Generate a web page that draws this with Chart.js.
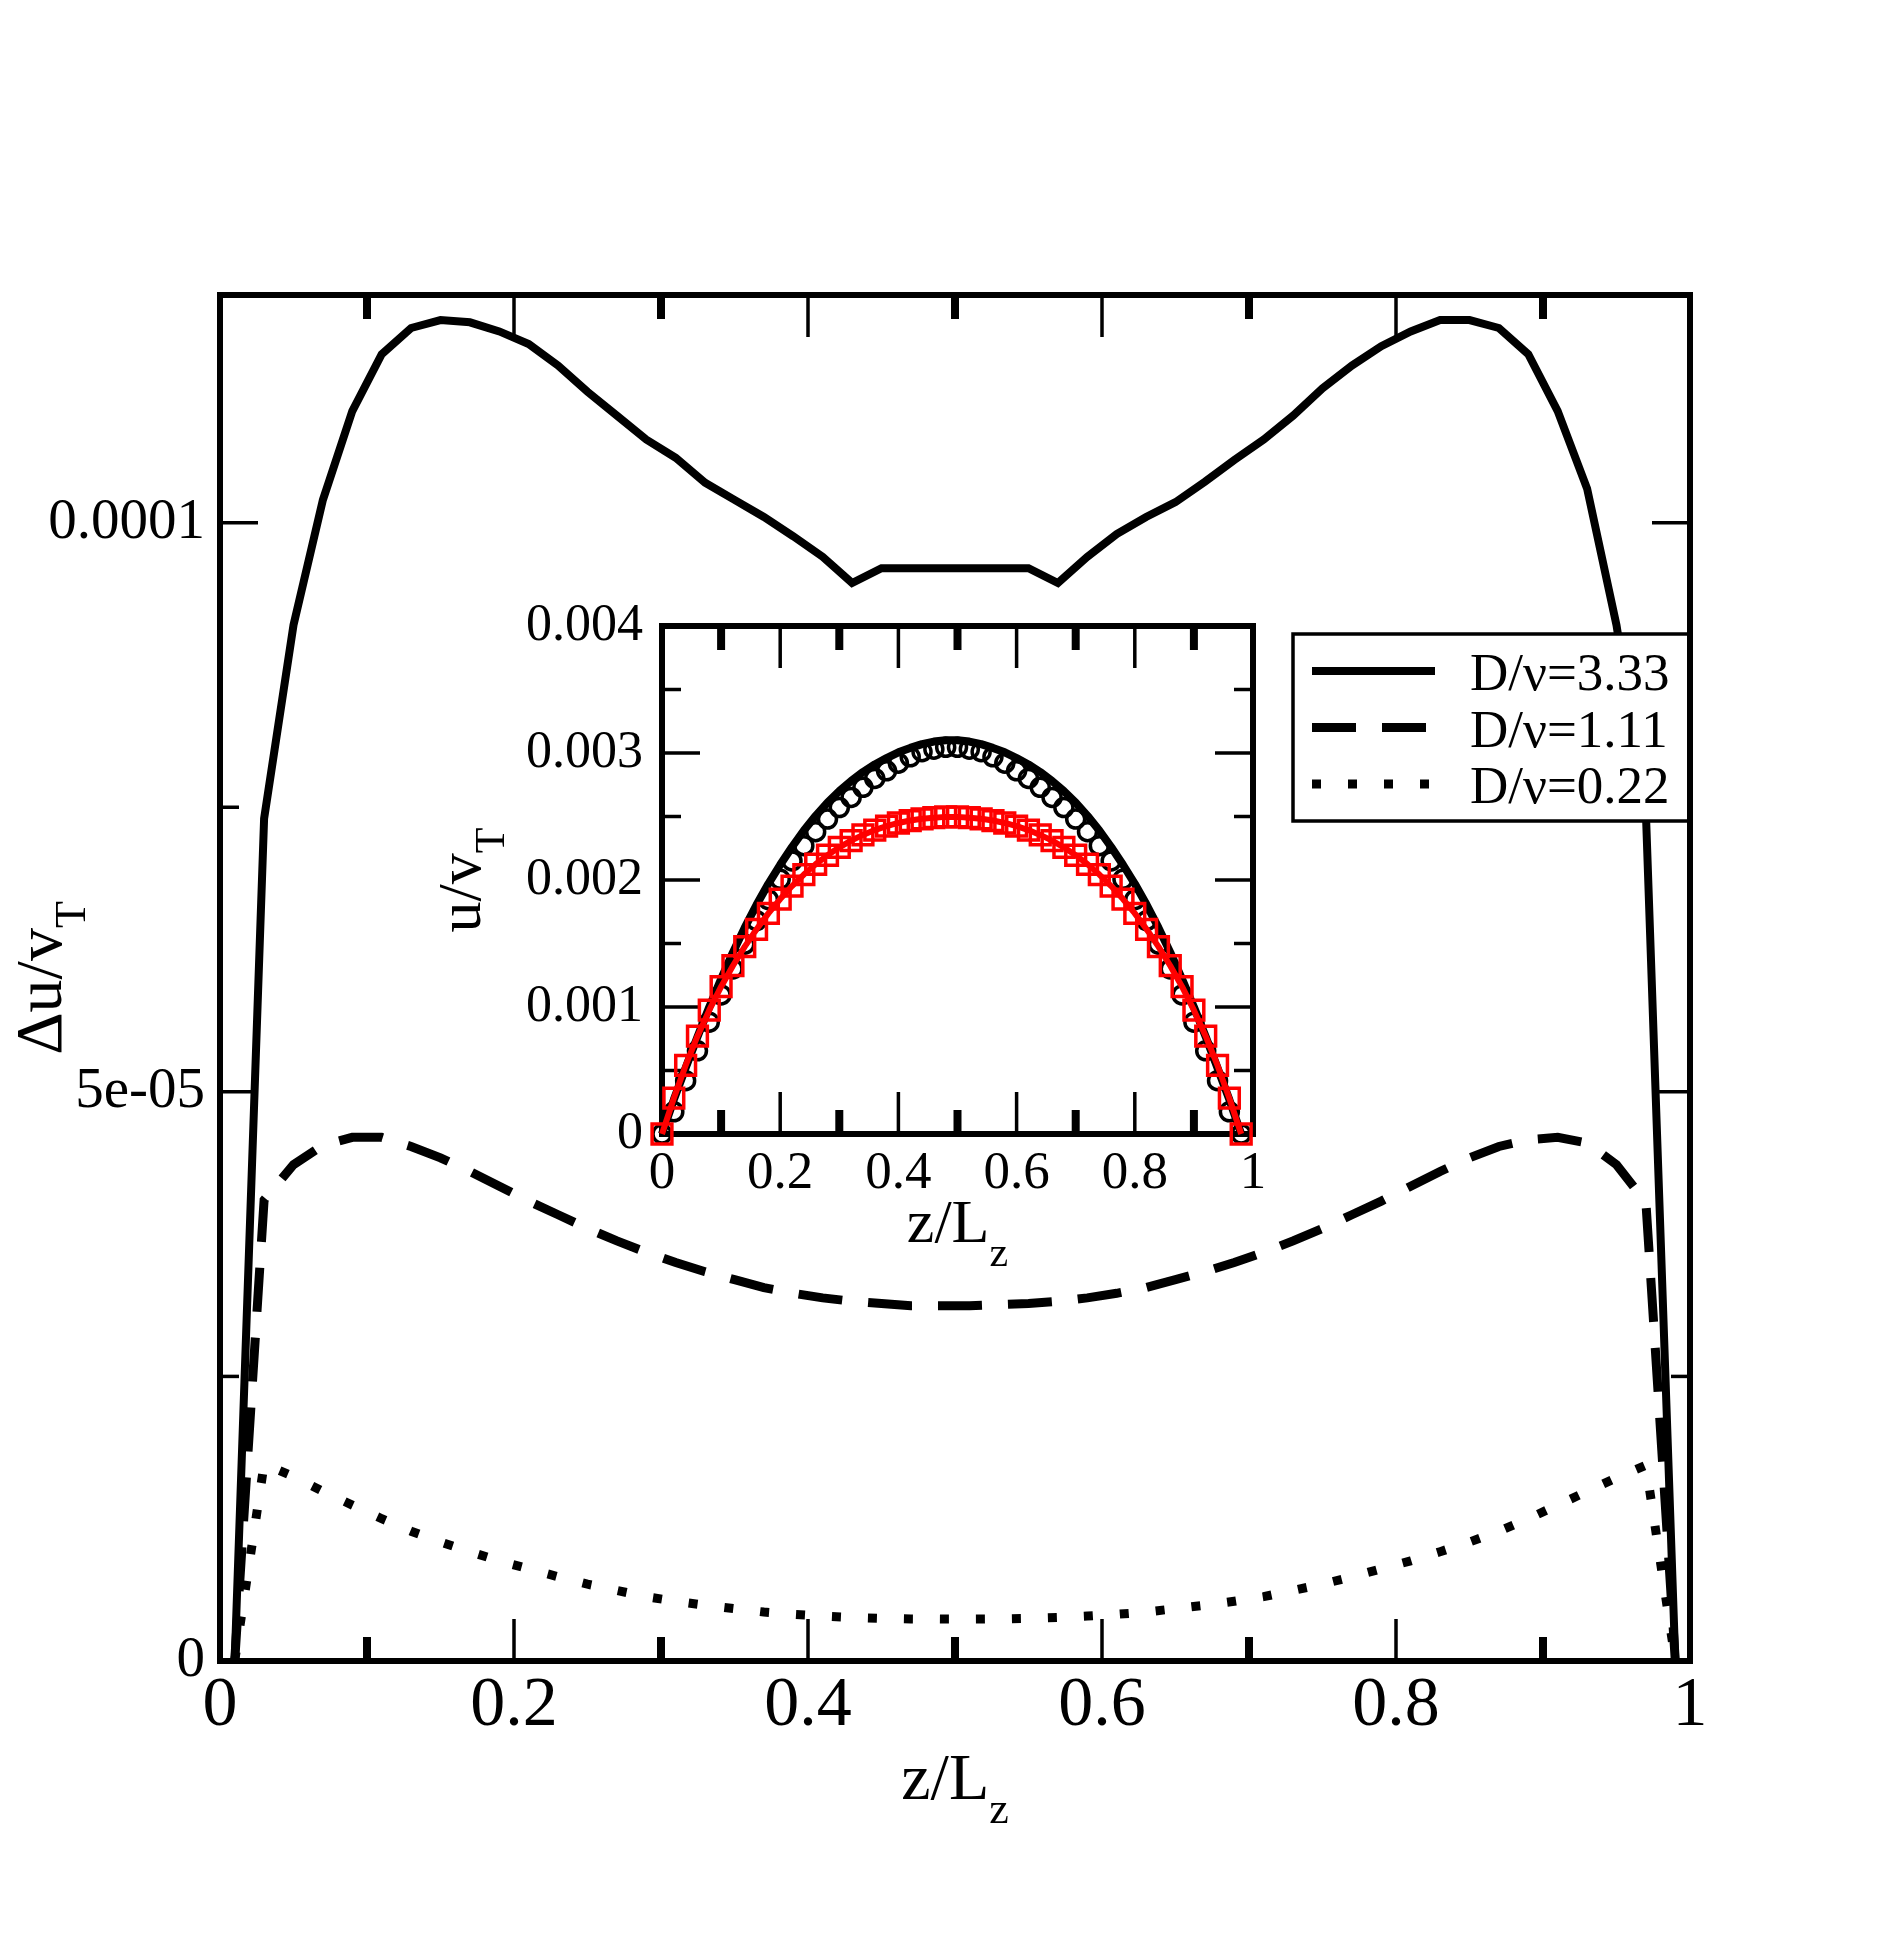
<!DOCTYPE html>
<html>
<head>
<meta charset="utf-8">
<title>Velocity difference profiles</title>
<script src="https://cdn.jsdelivr.net/npm/chart.js@4.4.1/dist/chart.umd.min.js"></script>
<style>
  body { margin: 0; background: #fff; }
  #wrap { position: relative; width: 1904px; height: 1954px; }
  #mainChart { position: absolute; left: 0; top: 0; }
  #insetChart { position: absolute; left: 400px; top: 560px; }
</style>
</head>
<body>
<div id="wrap">
  <canvas id="mainChart" width="1904" height="1954"></canvas>
  <canvas id="insetChart" width="900" height="760"></canvas>
</div>
<script>
const FONT = "'Liberation Serif', 'Times New Roman', serif";

// main plot: cell centres across the channel
const zMain = [0.01, 0.03, 0.05, 0.07, 0.09, 0.11, 0.13, 0.15, 0.17, 0.19,
  0.21, 0.23, 0.25, 0.27, 0.29, 0.31, 0.33, 0.35, 0.37, 0.39,
  0.41, 0.43, 0.45, 0.47, 0.49, 0.51, 0.53, 0.55, 0.57, 0.59,
  0.61, 0.63, 0.65, 0.67, 0.69, 0.71, 0.73, 0.75, 0.77, 0.79,
  0.81, 0.83, 0.85, 0.87, 0.89, 0.91, 0.93, 0.95, 0.97, 0.99];

// D/nu = 3.33
const duSolid = [0, 7.40e-5, 9.10e-5, 1.020e-4, 1.098e-4, 1.148e-4, 1.171e-4, 1.178e-4, 1.176e-4, 1.168e-4,
  1.157e-4, 1.138e-4, 1.115e-4, 1.094e-4, 1.073e-4, 1.057e-4, 1.035e-4, 1.020e-4, 1.005e-4, 9.88e-5,
  9.70e-5, 9.47e-5, 9.60e-5, 9.60e-5, 9.60e-5, 9.60e-5, 9.60e-5, 9.60e-5, 9.47e-5, 9.70e-5,
  9.90e-5, 1.005e-4, 1.018e-4, 1.036e-4, 1.055e-4, 1.073e-4, 1.094e-4, 1.118e-4, 1.138e-4, 1.155e-4,
  1.168e-4, 1.178e-4, 1.178e-4, 1.171e-4, 1.148e-4, 1.098e-4, 1.030e-4, 9.10e-5, 7.45e-5, 0];

// D/nu = 1.11
const duDashed = [0, 4.05e-5, 4.36e-5, 4.53e-5, 4.60e-5, 4.60e-5, 4.52e-5, 4.42e-5, 4.30e-5, 4.17e-5,
  4.04e-5, 3.92e-5, 3.80e-5, 3.69e-5, 3.59e-5, 3.50e-5, 3.42e-5, 3.35e-5, 3.28e-5, 3.23e-5,
  3.19e-5, 3.16e-5, 3.14e-5, 3.12e-5, 3.12e-5, 3.12e-5, 3.13e-5, 3.14e-5, 3.16e-5, 3.19e-5,
  3.23e-5, 3.28e-5, 3.35e-5, 3.42e-5, 3.50e-5, 3.59e-5, 3.69e-5, 3.80e-5, 3.92e-5, 4.04e-5,
  4.17e-5, 4.30e-5, 4.42e-5, 4.52e-5, 4.58e-5, 4.60e-5, 4.55e-5, 4.36e-5, 4.03e-5, 0];

// D/nu = 0.22
const duDotted = [0, 1.73e-5, 1.62e-5, 1.49e-5, 1.37e-5, 1.25e-5, 1.14e-5, 1.045e-5, 9.6e-6, 8.8e-6,
  8.1e-6, 7.4e-6, 6.75e-6, 6.2e-6, 5.65e-6, 5.25e-6, 4.9e-6, 4.6e-6, 4.3e-6, 4.1e-6,
  3.95e-6, 3.83e-6, 3.75e-6, 3.70e-6, 3.68e-6, 3.68e-6, 3.70e-6, 3.75e-6, 3.83e-6, 3.95e-6,
  4.1e-6, 4.3e-6, 4.6e-6, 4.9e-6, 5.25e-6, 5.65e-6, 6.2e-6, 6.75e-6, 7.4e-6, 8.1e-6,
  8.8e-6, 9.6e-6, 1.045e-5, 1.14e-5, 1.25e-5, 1.37e-5, 1.49e-5, 1.61e-5, 1.72e-5, 0];

const seriesLabels = ['D/\u03bd=3.33', 'D/\u03bd=1.11', 'D/\u03bd=0.22'];

const mainXTicks = [0, 0.2, 0.4, 0.6, 0.8, 1];
const mainXTickLabels = ['0', '0.2', '0.4', '0.6', '0.8', '1'];
const mainXMinor = [0.1, 0.3, 0.5, 0.7, 0.9];
const mainYTicks = [0, 5e-5, 1e-4];
const mainYTickLabels = ['0', '5e-05', '0.0001'];
const mainYMinor = [2.5e-5, 7.5e-5];

// inset: velocity profiles
const zInset = [0, 0.02, 0.04, 0.06, 0.08, 0.10, 0.12, 0.14, 0.16, 0.18,
  0.20, 0.22, 0.24, 0.26, 0.28, 0.30, 0.32, 0.34, 0.36, 0.38,
  0.40, 0.42, 0.44, 0.46, 0.48, 0.50, 0.52, 0.54, 0.56, 0.58,
  0.60, 0.62, 0.64, 0.66, 0.68, 0.70, 0.72, 0.74, 0.76, 0.78,
  0.80, 0.82, 0.84, 0.86, 0.88, 0.90, 0.92, 0.94, 0.96, 0.98];

const uBlackLine = [0, 0.000270, 0.000520, 0.000765, 0.001000, 0.001220, 0.001430, 0.001625, 0.001805, 0.001970,
  0.002120, 0.002260, 0.002390, 0.002505, 0.002610, 0.002700, 0.002780, 0.002850, 0.002910, 0.002960,
  0.003005, 0.003040, 0.003070, 0.003090, 0.003100, 0.003100, 0.003090, 0.003070, 0.003040, 0.003005,
  0.002960, 0.002910, 0.002850, 0.002780, 0.002700, 0.002610, 0.002505, 0.002390, 0.002260, 0.002120,
  0.001970, 0.001805, 0.001625, 0.001430, 0.001220, 0.001000, 0.000765, 0.000520, 0.000270, 0];

const uCircles = [0, 0.000175, 0.000420, 0.000655, 0.000880, 0.001095, 0.001300, 0.001495, 0.001680, 0.001845,
  0.002005, 0.002150, 0.002270, 0.002380, 0.002480, 0.002570, 0.002650, 0.002730, 0.002800, 0.002860,
  0.002920, 0.002970, 0.003010, 0.003030, 0.003045, 0.003045, 0.003030, 0.003010, 0.002970, 0.002920,
  0.002860, 0.002800, 0.002730, 0.002650, 0.002570, 0.002480, 0.002380, 0.002270, 0.002150, 0.002005,
  0.001845, 0.001680, 0.001495, 0.001300, 0.001095, 0.000880, 0.000655, 0.000420, 0.000175, 0];

const uRed = [0, 0.000282, 0.000540, 0.000770, 0.000975, 0.001160, 0.001325, 0.001475, 0.001612, 0.001737,
  0.001850, 0.001952, 0.002043, 0.002124, 0.002195, 0.002257, 0.002310, 0.002355, 0.002393, 0.002424,
  0.002449, 0.002468, 0.002482, 0.002491, 0.002497, 0.002497, 0.002491, 0.002482, 0.002468, 0.002449,
  0.002424, 0.002393, 0.002355, 0.002310, 0.002257, 0.002195, 0.002124, 0.002043, 0.001952, 0.001850,
  0.001737, 0.001612, 0.001475, 0.001325, 0.001160, 0.000975, 0.000770, 0.000540, 0.000282, 0];

const insetXTicks = [0, 0.2, 0.4, 0.6, 0.8, 1];
const insetXTickLabels = ['0', '0.2', '0.4', '0.6', '0.8', '1'];
const insetXMinor = [0.1, 0.3, 0.5, 0.7, 0.9];
const insetYTicks = [0, 0.001, 0.002, 0.003, 0.004];
const insetYTickLabels = ['0', '0.001', '0.002', '0.003', '0.004'];
const insetYMinor = [0.0005, 0.0015, 0.0025, 0.0035];

const pts = (xs, ys) => xs.map((x, i) => ({ x: x, y: ys[i] }));

// inward ticks on all four sides, like the original plotting program
function drawTicks(chart, t) {
  const { ctx, chartArea: a, scales: { x, y } } = chart;
  ctx.save();
  ctx.strokeStyle = '#000';
  ctx.lineCap = 'butt';
  const seg = (x1, y1, x2, y2, w) => {
    ctx.lineWidth = w;
    ctx.beginPath();
    ctx.moveTo(x1, y1);
    ctx.lineTo(x2, y2);
    ctx.stroke();
  };
  t.xMajor.forEach(v => {
    const p = x.getPixelForValue(v);
    seg(p, a.bottom, p, a.bottom - 42, 3.5);
    seg(p, a.top, p, a.top + 42, 3.5);
  });
  t.xMinor.forEach(v => {
    const p = x.getPixelForValue(v);
    seg(p, a.bottom, p, a.bottom - 24, 8);
    seg(p, a.top, p, a.top + 24, 8);
  });
  t.yMajor.forEach(v => {
    const p = y.getPixelForValue(v);
    seg(a.left, p, a.left + 38, p, 3.5);
    seg(a.right, p, a.right - 38, p, 3.5);
  });
  t.yMinor.forEach(v => {
    const p = y.getPixelForValue(v);
    seg(a.left, p, a.left + 19, p, 3.5);
    seg(a.right, p, a.right - 19, p, 3.5);
  });
  ctx.restore();
}

function drawBorder(chart) {
  const { ctx, chartArea: a } = chart;
  ctx.save();
  ctx.strokeStyle = '#000';
  ctx.lineWidth = 6;
  ctx.strokeRect(a.left, a.top, a.right - a.left, a.bottom - a.top);
  ctx.restore();
}

// text with a lowered subscript, centred on cx
function subText(ctx, main, sub, cx, base, size, subSize, drop) {
  ctx.font = size + 'px ' + FONT;
  const w1 = ctx.measureText(main).width;
  ctx.font = subSize + 'px ' + FONT;
  const w2 = ctx.measureText(sub).width;
  const x0 = cx - (w1 + w2) / 2;
  ctx.fillStyle = '#000';
  ctx.textAlign = 'left';
  ctx.textBaseline = 'alphabetic';
  ctx.font = size + 'px ' + FONT;
  ctx.fillText(main, x0, base);
  ctx.font = subSize + 'px ' + FONT;
  ctx.fillText(sub, x0 + w1, base + drop);
}

function axisTitles(chart, o) {
  const { ctx, chartArea: a } = chart;
  ctx.save();
  subText(ctx, o.x[0], o.x[1], (a.left + a.right) / 2, a.bottom + o.xBase, o.size, o.subSize, o.drop);
  ctx.translate(a.left - o.yBase, (a.top + a.bottom) / 2);
  ctx.rotate(-Math.PI / 2);
  subText(ctx, o.y[0], o.y[1], 0, 0, o.size, o.subSize, o.drop);
  ctx.restore();
}

function drawLegend(chart) {
  const { ctx, chartArea: a } = chart;
  const left = a.right - 397, top = a.top + 339;
  ctx.save();
  ctx.fillStyle = '#fff';
  ctx.fillRect(left, top, 397, 187);
  ctx.strokeStyle = '#000';
  ctx.lineWidth = 3.5;
  ctx.strokeRect(left, top, 397, 187);
  chart.data.datasets.forEach((ds, i) => {
    const yy = top + 37 + i * 56.5;
    ctx.lineWidth = ds.borderWidth;
    ctx.lineCap = 'butt';
    ctx.setLineDash(ds.borderDash || []);
    ctx.beginPath();
    ctx.moveTo(left + 19, yy);
    ctx.lineTo(left + 142, yy);
    ctx.stroke();
    ctx.setLineDash([]);
    ctx.fillStyle = '#000';
    ctx.font = '53px ' + FONT;
    ctx.textAlign = 'left';
    ctx.textBaseline = 'alphabetic';
    ctx.fillText(ds.label, left + 177, yy + 19);
  });
  ctx.restore();
}

function axisOpts(min, max, tickVals, tickLabels, size, pad, fit) {
  return {
    type: 'linear', min: min, max: max,
    grid: { display: false, drawTicks: false },
    border: { display: false },
    afterBuildTicks: s => { s.ticks = tickVals.map(v => ({ value: v })); },
    afterFit: fit,
    ticks: {
      autoSkip: false, maxRotation: 0, padding: pad, color: '#000',
      font: { family: FONT, size: size },
      callback: (v, i) => tickLabels[i]
    }
  };
}

new Chart(document.getElementById('mainChart'), {
  type: 'line',
  data: {
    datasets: [{
      label: seriesLabels[0],
      data: pts(zMain, duSolid),
      borderColor: '#000', borderWidth: 8, pointRadius: 0
    }, {
      label: seriesLabels[1],
      data: pts(zMain, duDashed),
      borderColor: '#000', borderWidth: 9, borderDash: [44, 26], pointRadius: 0
    }, {
      label: seriesLabels[2],
      data: pts(zMain, duDotted),
      borderColor: '#000', borderWidth: 9, borderDash: [9, 27], pointRadius: 0
    }]
  },
  options: {
    responsive: false, devicePixelRatio: 1, animation: false, events: [],
    layout: { padding: { left: 0, top: 295, right: 214, bottom: 0 } },
    elements: { line: { tension: 0, borderJoinStyle: 'miter', borderCapStyle: 'butt', fill: false } },
    plugins: { legend: { display: false }, tooltip: { enabled: false } },
    scales: {
      x: axisOpts(0, 1, mainXTicks, mainXTickLabels, 70, 4, s => { s.height = 293; }),
      y: axisOpts(0, 1.2e-4, mainYTicks, mainYTickLabels, 57, 15, s => { s.width = 220; })
    }
  },
  plugins: [{
    id: 'mainDecor',
    afterDatasetsDraw(chart) {
      drawTicks(chart, { xMajor: mainXTicks, xMinor: mainXMinor, yMajor: mainYTicks, yMinor: mainYMinor });
      drawLegend(chart);
      drawBorder(chart);
    },
    afterDraw(chart) {
      axisTitles(chart, { x: ['z/L', 'z'], y: ['\u0394u/v', 'T'], xBase: 138, yBase: 159, size: 66, subSize: 44, drop: 24 });
    }
  }]
});

new Chart(document.getElementById('insetChart'), {
  type: 'line',
  data: {
    datasets: [{
      label: 'red',
      data: pts(zInset, uRed),
      borderColor: '#ff0000', borderWidth: 6, clip: false,
      pointStyle: 'rect', pointRadius: 14, pointBorderWidth: 3.5,
      pointBorderColor: '#ff0000', pointBackgroundColor: 'rgba(0,0,0,0)'
    }, {
      label: 'circles',
      data: pts(zInset, uCircles),
      showLine: false, clip: false,
      pointStyle: 'circle', pointRadius: 9, pointBorderWidth: 3.5,
      pointBorderColor: '#000', pointBackgroundColor: 'rgba(0,0,0,0)'
    }, {
      label: 'black',
      data: pts(zInset, uBlackLine),
      borderColor: '#000', borderWidth: 8, pointRadius: 0, clip: false
    }]
  },
  options: {
    responsive: false, devicePixelRatio: 1, animation: false, events: [],
    layout: { padding: { left: 0, top: 66, right: 47, bottom: 0 } },
    elements: { line: { tension: 0, borderJoinStyle: 'round', fill: false } },
    plugins: { legend: { display: false }, tooltip: { enabled: false } },
    scales: {
      x: axisOpts(0, 1, insetXTicks, insetXTickLabels, 53, 8, s => { s.height = 186; }),
      y: axisOpts(0, 0.004, insetYTicks, insetYTickLabels, 52, 19, s => { s.width = 262; })
    }
  },
  plugins: [{
    id: 'insetDecor',
    beforeDatasetsDraw(chart) {
      drawTicks(chart, { xMajor: insetXTicks, xMinor: insetXMinor, yMajor: insetYTicks, yMinor: insetYMinor });
      drawBorder(chart);
    },
    afterDraw(chart) {
      axisTitles(chart, { x: ['z/L', 'z'], y: ['u/v', 'T'], xBase: 108, yBase: 182, size: 62, subSize: 42, drop: 24 });
    }
  }]
});
</script>
</body>
</html>
